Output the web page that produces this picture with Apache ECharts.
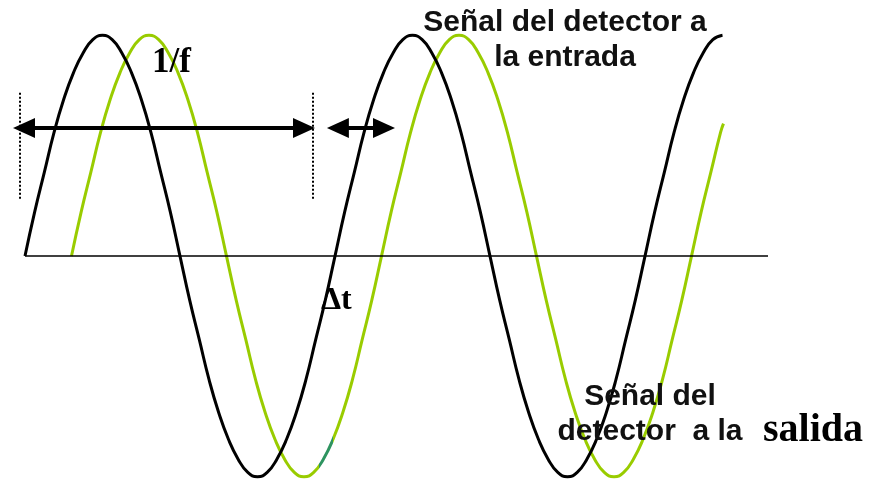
<!DOCTYPE html>
<html>
<head>
<meta charset="utf-8">
<script src="https://cdn.jsdelivr.net/npm/echarts@6/dist/echarts.min.js"></script>
<style>html,body{margin:0;padding:0;background:#fff}#c{width:869px;height:479px}</style>
</head>
<body>
<div id="c"></div>
<script>
const timeIn = [0,0.5,1,1.5,2,2.5,3,3.5,4,4.5,5,5.5,6,6.5,7,7.5,8,8.5,9,9.5,10,10.5,11,11.5,12,12.5,13,13.5,14,14.5,15,15.5,
                16,16.5,17,17.5,18,18.5,19,19.5,20,20.5,21,21.5,22,22.5,23,23.5,24,24.5,25,25.5,26,26.5,27,27.5,28,28.5,29,29.5,30,30.5,31,31.5,
                32,32.5,33,33.5,34,34.5,35,35.5,36];
const signalIn = [0,0.20,0.38,0.56,0.71,0.83,0.92,0.98,1,0.98,0.92,0.83,0.71,0.56,0.38,0.20,
                  0,-0.20,-0.38,-0.56,-0.71,-0.83,-0.92,-0.98,-1,-0.98,-0.92,-0.83,-0.71,-0.56,-0.38,-0.20,
                  0,0.20,0.38,0.56,0.71,0.83,0.92,0.98,1,0.98,0.92,0.83,0.71,0.56,0.38,0.20,
                  0,-0.20,-0.38,-0.56,-0.71,-0.83,-0.92,-0.98,-1,-0.98,-0.92,-0.83,-0.71,-0.56,-0.38,-0.20,
                  0,0.20,0.38,0.56,0.71,0.83,0.92,0.98,1];
const timeOut = [2.4,2.9,3.4,3.9,4.4,4.9,5.4,5.9,6.4,6.9,7.4,7.9,8.4,8.9,9.4,9.9,
                 10.4,10.9,11.4,11.9,12.4,12.9,13.4,13.9,14.4,14.9,15.4,15.9,16.4,16.9,17.4,17.9,
                 18.4,18.9,19.4,19.9,20.4,20.9,21.4,21.9,22.4,22.9,23.4,23.9,24.4,24.9,25.4,25.9,
                 26.4,26.9,27.4,27.9,28.4,28.9,29.4,29.9,30.4,30.9,31.4,31.9,32.4,32.9,33.4,33.9,
                 34.4,34.9,35.4,35.9,36.05];
const signalOut = [0,0.20,0.38,0.56,0.71,0.83,0.92,0.98,1,0.98,0.92,0.83,0.71,0.56,0.38,0.20,
                   0,-0.20,-0.38,-0.56,-0.71,-0.83,-0.92,-0.98,-1,-0.98,-0.92,-0.83,-0.71,-0.56,-0.38,-0.20,
                   0,0.20,0.38,0.56,0.71,0.83,0.92,0.98,1,0.98,0.92,0.83,0.71,0.56,0.38,0.20,
                   0,-0.20,-0.38,-0.56,-0.71,-0.83,-0.92,-0.98,-1,-0.98,-0.92,-0.83,-0.71,-0.56,-0.38,-0.20,
                   0,0.20,0.38,0.56,0.60];
// annotation positions (data units)
const axisSpan = [0, 38.35];
const periodArrow = [-0.05, 14.4];
const periodMarks = [-0.26, 14.87];
const periodMarkY = [0.26, 0.74];
const delayArrow = [16.15, 18.53];
const arrowLevel = 0.58;

const zip = (xs, ys) => xs.map((x, i) => [x, ys[i]]);

const chart = echarts.init(document.getElementById('c'), null, {renderer: 'canvas'});
const sans = '"Liberation Sans", Arial, sans-serif';
const serif = '"Liberation Serif", "Times New Roman", serif';
chart.setOption({
  animation: false,
  backgroundColor: '#fff',
  grid: {left: 0, right: 0, top: 0, bottom: 0},
  xAxis: {type: 'value', min: -1.29, max: 43.561, show: false},
  yAxis: {type: 'value', min: -1.01, max: 1.16, show: false},
  visualMap: {
    show: false, type: 'piecewise', seriesIndex: 1, dimension: 0,
    pieces: [
      {lt: 15.2, color: '#99cc00'},
      {gte: 15.2, lte: 15.9, color: '#2e9460'},
      {gt: 15.9, color: '#99cc00'}
    ]
  },
  series: [
    {
      type: 'line', name: 'Señal del detector a la entrada',
      data: zip(timeIn, signalIn), smooth: true, showSymbol: false, clip: false,
      lineStyle: {color: '#000', width: 3}, z: 3,
      markLine: {
        silent: true, symbol: ['triangle', 'triangle'], symbolSize: [20, 22],
        label: {show: false},
        lineStyle: {color: '#000', width: 4, type: 'solid'},
        data: [
          [{coord: [periodArrow[0], arrowLevel]}, {coord: [periodArrow[1], arrowLevel]}],
          [{coord: [delayArrow[0], arrowLevel]}, {coord: [delayArrow[1], arrowLevel]}]
        ]
      }
    },
    {
      type: 'line', name: 'Señal del detector a la salida',
      data: zip(timeOut, signalOut), smooth: true, showSymbol: false, clip: false,
      lineStyle: {width: 3}, z: 2,
      markLine: {
        silent: true, symbol: ['none', 'none'],
        label: {show: false},
        data: [
          [{coord: [axisSpan[0], 0], lineStyle: {color: '#000', width: 1.5, type: 'solid'}}, {coord: [axisSpan[1], 0]}],
          [{coord: [periodMarks[0], periodMarkY[0]], lineStyle: {color: '#000', width: 2, type: [2, 2]}}, {coord: [periodMarks[0], periodMarkY[1]]}],
          [{coord: [periodMarks[1], periodMarkY[0]], lineStyle: {color: '#000', width: 2, type: [2, 2]}}, {coord: [periodMarks[1], periodMarkY[1]]}]
        ]
      }
    }
  ],
  graphic: [
    {type: 'text', z: 10, style: {text: 'Señal del detector a', x: 565, y: 23, textAlign: 'center', textVerticalAlign: 'middle', font: 'bold 30px ' + sans, fill: '#111'}},
    {type: 'text', z: 10, style: {text: 'la entrada', x: 565, y: 58, textAlign: 'center', textVerticalAlign: 'middle', font: 'bold 30px ' + sans, fill: '#111'}},
    {type: 'text', z: 10, style: {text: 'Señal del', x: 650, y: 397, textAlign: 'center', textVerticalAlign: 'middle', font: 'bold 30px ' + sans, fill: '#111'}},
    {type: 'text', z: 10, style: {text: 'detector  a la', x: 650, y: 432, textAlign: 'center', textVerticalAlign: 'middle', font: 'bold 30px ' + sans, fill: '#111'}},
    {type: 'text', z: 10, style: {text: 'salida', x: 763, y: 431, textAlign: 'left', textVerticalAlign: 'middle', font: 'bold 40px ' + serif, fill: '#000'}},
    {type: 'text', z: 10, style: {text: '1/f', x: 152, y: 63, textAlign: 'left', textVerticalAlign: 'middle', font: 'bold 35px ' + serif, fill: '#000'}},
    {type: 'text', z: 10, style: {text: 'Δt', x: 321, y: 301, textAlign: 'left', textVerticalAlign: 'middle', font: 'bold 32px ' + serif, fill: '#000'}}
  ]
});
</script>
</body>
</html>
